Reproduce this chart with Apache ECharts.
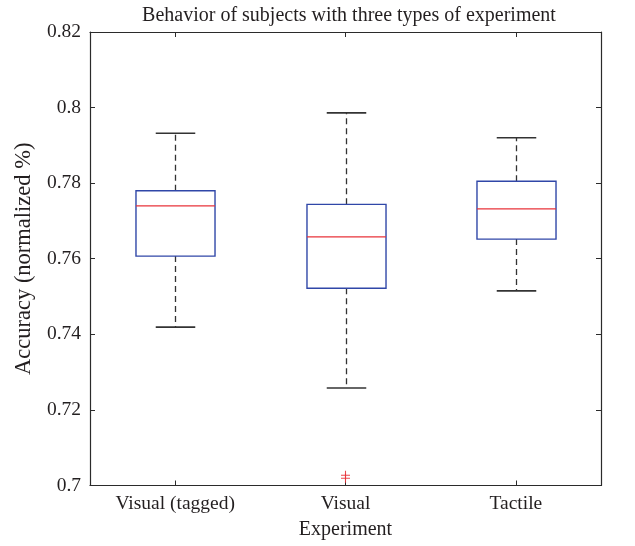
<!DOCTYPE html>
<html>
<head>
<meta charset="utf-8">
<script src="https://cdn.jsdelivr.net/npm/echarts/dist/echarts.min.js"></script>
<style>
  html, body { margin: 0; padding: 0; background: #ffffff; }
  #chart { width: 635px; height: 546px; }
</style>
</head>
<body>
<div id="chart"></div>
<script>
// Box statistics per experiment type
const categories = ['Visual (tagged)', 'Visual', 'Tactile'];
const whiskerLow  = [0.7419, 0.7258, 0.7515];
const quartile1   = [0.7607, 0.7522, 0.7652];
const medians     = [0.7740, 0.7658, 0.7732];
const quartile3   = [0.7780, 0.7744, 0.7805];
const whiskerHigh = [0.7932, 0.7986, 0.7920];
// Outliers: [category index, value]
const outlierCats   = [1, 1];
const outlierValues = [0.7027, 0.7019];
// Value axis range
const yMin = 0.70, yMax = 0.82, yStep = 0.02;

const FONT = "'Liberation Serif', 'DejaVu Serif', serif";
const TEXT = '#231f20';
const AXIS = '#2b2b2b';
const BOX_BLUE = '#3047a8';
const MED_RED = '#e8333a';

const boxData = categories.map((c, i) =>
  [i, whiskerLow[i], quartile1[i], medians[i], quartile3[i], whiskerHigh[i]]);
const outlierData = outlierCats.map((c, i) => [c, outlierValues[i]]);

function renderBox(params, api) {
  const idx = api.value(0);
  const pLow = api.coord([idx, api.value(1)]);
  const pQ1 = api.coord([idx, api.value(2)]);
  const pMed = api.coord([idx, api.value(3)]);
  const pQ3 = api.coord([idx, api.value(4)]);
  const pHigh = api.coord([idx, api.value(5)]);
  const band = api.size([1, 0])[0];
  const half = band * 0.232;
  const capHalf = band * 0.116;
  const x = Math.round(pMed[0]) + 0.5;
  const dashed = { stroke: '#333333', lineWidth: 1.3, lineDash: [6, 4] };
  const solid = { stroke: '#333333', lineWidth: 1.6 };
  return {
    type: 'group',
    children: [
      { type: 'line', shape: { x1: x, y1: pQ3[1], x2: x, y2: pHigh[1] }, style: dashed },
      { type: 'line', shape: { x1: x, y1: pQ1[1], x2: x, y2: pLow[1] }, style: dashed },
      { type: 'line', shape: { x1: x - capHalf, y1: pHigh[1], x2: x + capHalf, y2: pHigh[1] }, style: solid },
      { type: 'line', shape: { x1: x - capHalf, y1: pLow[1], x2: x + capHalf, y2: pLow[1] }, style: solid },
      { type: 'rect', shape: { x: x - half, y: pQ3[1], width: half * 2, height: pQ1[1] - pQ3[1] },
        style: { fill: 'rgba(0,0,0,0)', stroke: BOX_BLUE, lineWidth: 1.4 } },
      { type: 'line', shape: { x1: x - half, y1: pMed[1], x2: x + half, y2: pMed[1] },
        style: { stroke: MED_RED, lineWidth: 1.4 } }
    ]
  };
}

const chart = echarts.init(document.getElementById('chart'), null, { renderer: 'canvas' });

const tickFmt = v => String(parseFloat(Number(v).toFixed(2)));

chart.setOption({
  animation: false,
  backgroundColor: '#ffffff',
  title: {
    text: 'Behavior of subjects with three types of experiment',
    left: 344, top: 1, textAlign: 'center',
    textStyle: { fontFamily: FONT, fontSize: 20, fontWeight: 'normal', color: TEXT }
  },
  grid: { left: 90, right: 34, top: 32, bottom: 60.5, containLabel: false },
  xAxis: [
    {
      type: 'category', data: categories, position: 'bottom',
      name: 'Experiment', nameLocation: 'middle', nameGap: 34,
      nameTextStyle: { fontFamily: FONT, fontSize: 20, color: TEXT },
      axisLine: { lineStyle: { color: AXIS, width: 1.2 } },
      axisTick: { show: true, inside: true, alignWithLabel: true, length: 5, lineStyle: { color: AXIS } },
      axisLabel: { fontFamily: FONT, fontSize: 19.5, color: TEXT, margin: 8 },
      splitLine: { show: false }
    },
    {
      type: 'category', data: categories, position: 'top',
      axisLine: { lineStyle: { color: AXIS, width: 1.2 } },
      axisTick: { show: true, inside: true, alignWithLabel: true, length: 5, lineStyle: { color: AXIS } },
      axisLabel: { show: false },
      splitLine: { show: false }
    }
  ],
  yAxis: [
    {
      type: 'value', min: yMin, max: yMax, interval: yStep, position: 'left',
      name: 'Accuracy (normalized %)', nameLocation: 'middle', nameGap: 54,
      nameTextStyle: { fontFamily: FONT, fontSize: 22.5, color: TEXT },
      axisLine: { show: true, lineStyle: { color: AXIS, width: 1.2 } },
      axisTick: { show: true, inside: true, length: 5, lineStyle: { color: AXIS } },
      axisLabel: { fontFamily: FONT, fontSize: 19.5, color: TEXT, margin: 9, formatter: tickFmt },
      splitLine: { show: false }
    },
    {
      type: 'value', min: yMin, max: yMax, interval: yStep, position: 'right',
      axisLine: { show: true, lineStyle: { color: AXIS, width: 1.2 } },
      axisTick: { show: true, inside: true, length: 5, lineStyle: { color: AXIS } },
      axisLabel: { show: false },
      splitLine: { show: false }
    }
  ],
  series: [
    {
      type: 'custom', xAxisIndex: 0, yAxisIndex: 0,
      renderItem: renderBox, data: boxData,
      encode: { x: 0, y: [1, 2, 3, 4, 5] }, z: 3
    },
    {
      type: 'scatter', xAxisIndex: 0, yAxisIndex: 0,
      data: outlierData,
      symbol: 'path://M4.4,0H5.6V4.4H10V5.6H5.6V10H4.4V5.6H0V4.4H4.4Z',
      symbolSize: 9,
      itemStyle: { color: MED_RED, opacity: 0.9 }, z: 4
    }
  ]
});
</script>
</body>
</html>
